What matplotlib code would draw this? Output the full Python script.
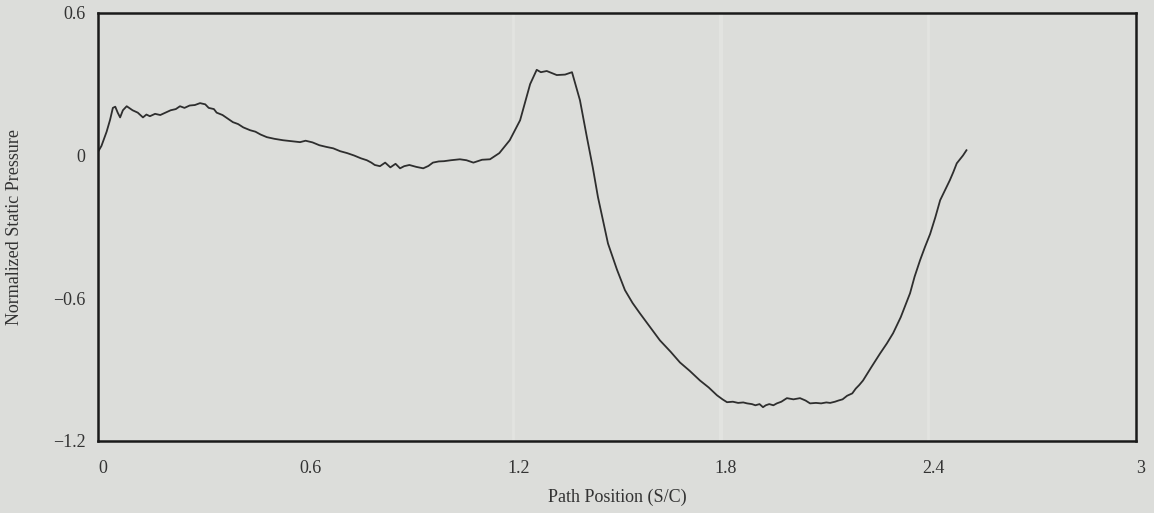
import numpy as np
import matplotlib.pyplot as plt
import matplotlib.transforms as mtransforms

# path position (S/C) and normalized static pressure
path_pos = [0.0, 0.01, 0.025, 0.035, 0.043, 0.05, 0.057, 0.064, 0.072, 0.083,
            0.1, 0.115, 0.13, 0.14, 0.15, 0.165, 0.18, 0.195, 0.21, 0.225,
            0.237, 0.25, 0.265, 0.28, 0.295, 0.31, 0.32, 0.335, 0.343, 0.36,
            0.375, 0.39, 0.405, 0.42, 0.44, 0.455, 0.47, 0.488, 0.51, 0.535,
            0.56, 0.584, 0.6, 0.62, 0.64, 0.66, 0.68, 0.7, 0.72, 0.74,
            0.76, 0.777, 0.79, 0.8, 0.815, 0.83, 0.845, 0.86, 0.873, 0.885,
            0.9, 0.92, 0.94, 0.955, 0.968, 0.985, 1.0, 1.02, 1.046, 1.065,
            1.085, 1.11, 1.133, 1.16, 1.19, 1.22, 1.249, 1.268, 1.28, 1.297,
            1.326, 1.35, 1.37, 1.393, 1.413, 1.43, 1.445, 1.474, 1.5, 1.523,
            1.545, 1.566, 1.595, 1.624, 1.655, 1.682, 1.71, 1.74, 1.765, 1.789,
            1.805, 1.818, 1.835, 1.85, 1.865, 1.876, 1.89, 1.9, 1.912, 1.922,
            1.93, 1.94, 1.952, 1.962, 1.975, 1.991, 2.01, 2.029, 2.045, 2.058,
            2.075, 2.09, 2.105, 2.116, 2.13, 2.14, 2.152, 2.165, 2.18, 2.19,
            2.2, 2.211, 2.235, 2.26, 2.28, 2.298, 2.32, 2.347, 2.36, 2.376,
            2.39, 2.405, 2.42, 2.434, 2.45, 2.462, 2.472, 2.482, 2.5, 2.51]
pressure = [0.015, 0.04, 0.1, 0.15, 0.2, 0.205, 0.18, 0.16, 0.19, 0.207,
            0.19, 0.18, 0.16, 0.172, 0.165, 0.175, 0.17, 0.18, 0.19, 0.195,
            0.207, 0.2, 0.21, 0.212, 0.22, 0.215, 0.2, 0.195, 0.18, 0.17,
            0.155, 0.14, 0.132, 0.118, 0.106, 0.1, 0.088, 0.077, 0.07, 0.064,
            0.06, 0.056, 0.062, 0.055, 0.043, 0.036, 0.03, 0.018, 0.01, 0.0,
            -0.012, -0.02, -0.03, -0.04, -0.045, -0.03, -0.05, -0.035, -0.054, -0.045,
            -0.04, -0.048, -0.054, -0.044, -0.03, -0.025, -0.024, -0.02, -0.016, -0.02,
            -0.03, -0.018, -0.016, 0.01, 0.064, 0.148, 0.3, 0.36, 0.35, 0.355,
            0.338, 0.34, 0.35, 0.232, 0.077, -0.05, -0.175, -0.37, -0.48, -0.566,
            -0.62, -0.663, -0.72, -0.777, -0.825, -0.87, -0.905, -0.946, -0.975, -1.008,
            -1.025, -1.037, -1.035, -1.04, -1.038, -1.042, -1.045, -1.05, -1.045, -1.058,
            -1.05, -1.045, -1.05, -1.042, -1.035, -1.02, -1.025, -1.02, -1.03, -1.042,
            -1.04, -1.042, -1.038, -1.04, -1.035, -1.03, -1.025, -1.01, -1.0, -0.98,
            -0.965, -0.946, -0.89, -0.833, -0.79, -0.747, -0.68, -0.579, -0.51, -0.44,
            -0.385, -0.33, -0.26, -0.188, -0.14, -0.104, -0.07, -0.033, 0.0, 0.022]

x_ticks = [0, 0.6, 1.2, 1.8, 2.4, 3]
x_labels = ["0", "0.6", "1.2", "1.8", "2.4", "3"]
y_ticks = [0.6, 0, -0.6, -1.2]
y_labels = ["0.6", "0", "\u22120.6", "\u22121.2"]

bg = "#dcddda"
plt.rcParams['font.family'] = ['Liberation Serif', 'DejaVu Serif']

fig = plt.figure(figsize=(11.54, 5.13), dpi=100, facecolor=bg)
ax = fig.add_axes([0.0849, 0.1404, 0.8995, 0.8348], facecolor=bg)

# faint scan artefacts: light vertical traces
for xv, w in [(1.2, 2.0), (1.8, 3.0), (2.4, 2.0)]:
    ax.axvline(xv, color="#e2e3e0", lw=w, zorder=0)

ax.plot(path_pos, pressure, color="#2e2e2e", lw=1.3)

ax.set_xlim(0, 3)
ax.set_ylim(-1.2, 0.6)
ax.set_xticks(x_ticks)
ax.set_xticklabels(x_labels)
ax.set_yticks(y_ticks)
ax.set_yticklabels(y_labels)
ax.tick_params(axis="x", length=0, pad=14, labelsize=13, colors="#333333")
ax.tick_params(axis="y", length=0, pad=9, labelsize=13, colors="#333333")
shift = mtransforms.ScaledTranslation(5 / 100, 0, fig.dpi_scale_trans)
for lab in ax.get_xticklabels():
    lab.set_transform(lab.get_transform() + shift)

for sp in ax.spines.values():
    sp.set_linewidth(1.8)
    sp.set_color("#1a1a1a")

ax.set_xlabel("Path Position (S/C)", fontsize=13, color="#333333", labelpad=8)
ax.set_ylabel("Normalized Static Pressure", fontsize=13, color="#333333")
ax.yaxis.set_label_coords(-0.072, 0.5)

fig.savefig("out.png", dpi=100, facecolor=bg)
